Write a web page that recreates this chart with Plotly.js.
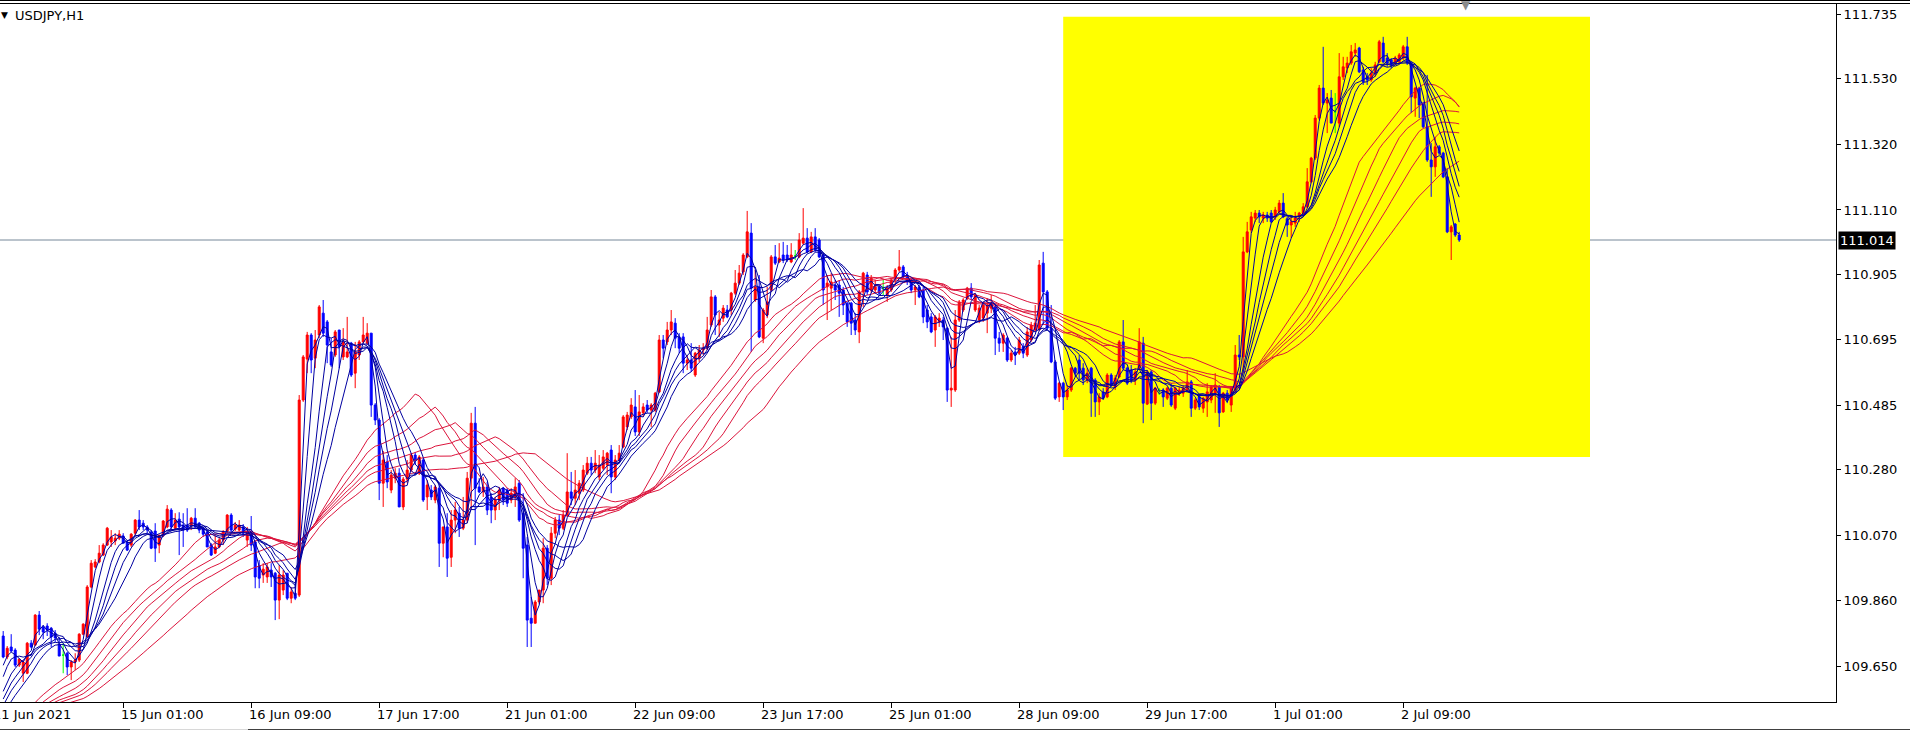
<!DOCTYPE html>
<html><head><meta charset="utf-8">
<script src="https://cdn.plot.ly/plotly-3.0.1.min.js"></script>
<style>html,body{margin:0;padding:0;background:#fff;overflow:hidden}#chart{width:1910px;height:731px}</style>
</head><body><div id="chart"></div>
<script>
// ---------- data (USDJPY H1) ----------
const symbolLabel = 'USDJPY,H1';
const opens = [
109.747,109.680,109.712,109.702,109.654,109.628,109.628,109.724,109.718,109.814,
109.776,109.779,109.772,109.756,109.721,109.686,109.692,109.648,109.664,109.670,
109.753,109.744,109.904,109.968,109.984,110.006,110.038,110.048,110.051,110.060,
110.067,110.048,110.038,110.076,110.118,110.108,110.096,110.080,110.083,110.038,
110.070,110.096,110.150,110.092,110.121,110.102,110.102,110.102,110.124,110.108,
110.092,110.080,110.038,110.012,110.032,110.054,110.083,110.134,110.089,110.086,
110.096,110.054,110.076,110.048,109.971,109.942,109.936,109.958,109.948,109.862,
109.894,109.948,109.868,109.884,109.878,110.502,110.633,110.710,110.636,110.710,
110.780,110.752,110.656,110.646,110.726,110.640,110.640,110.684,110.588,110.646,
110.688,110.684,110.716,110.486,110.438,110.236,110.304,110.214,110.252,110.268,
110.160,110.249,110.278,110.326,110.268,110.310,110.192,110.214,110.182,110.220,
110.044,110.096,109.999,110.118,110.140,110.092,110.118,110.252,110.428,110.224,
110.208,110.224,110.192,110.150,110.182,110.220,110.214,110.182,110.192,110.236,
110.140,110.038,109.804,109.788,109.856,109.894,110.028,109.932,110.076,110.118,
110.092,110.134,110.208,110.188,110.204,110.214,110.268,110.300,110.278,110.256,
110.284,110.294,110.342,110.256,110.310,110.352,110.416,110.448,110.480,110.400,
110.461,110.486,110.470,110.470,110.528,110.694,110.688,110.726,110.748,110.704,
110.704,110.620,110.630,110.582,110.636,110.662,110.668,110.742,110.832,110.742,
110.764,110.790,110.790,110.844,110.876,110.912,110.960,111.036,110.822,110.864,
110.700,110.774,110.854,110.960,110.944,110.966,110.966,110.944,110.963,110.960,
111.004,111.020,110.976,111.024,111.014,110.966,110.864,110.860,110.870,110.870,
110.854,110.812,110.812,110.758,110.720,110.848,110.902,110.854,110.854,110.864,
110.860,110.838,110.854,110.892,110.918,110.928,110.902,110.886,110.854,110.864,
110.854,110.790,110.768,110.726,110.752,110.758,110.732,110.534,110.534,110.758,
110.790,110.828,110.860,110.790,110.758,110.764,110.780,110.796,110.800,110.700,
110.684,110.700,110.630,110.656,110.652,110.672,110.646,110.694,110.726,110.726,
110.940,110.848,110.732,110.624,110.512,110.556,110.512,110.534,110.604,110.630,
110.604,110.566,110.604,110.566,110.496,110.528,110.512,110.582,110.544,110.576,
110.688,110.604,110.598,110.566,110.604,110.684,110.489,110.592,110.492,110.534,
110.534,110.508,110.540,110.476,110.524,110.524,110.534,110.560,110.476,110.512,
110.476,110.496,110.502,110.524,110.544,110.464,110.524,110.486,110.534,110.646,
110.640,110.976,111.046,111.084,111.100,111.084,111.094,111.100,111.088,111.104,
111.132,111.082,111.062,111.068,111.088,111.100,111.120,111.200,111.276,111.404,
111.500,111.452,111.468,111.424,111.388,111.536,111.564,111.580,111.612,111.628,
111.558,111.536,111.526,111.548,111.584,111.644,111.596,111.590,111.580,111.584,
111.596,111.632,111.580,111.468,111.500,111.452,111.376,111.270,111.248,111.312,
111.292,111.216,111.040,111.065,111.030];
const highs = [
109.763,109.715,109.753,109.708,109.676,109.670,109.728,109.734,109.817,109.827,
109.782,109.788,109.776,109.766,109.744,109.724,109.696,109.670,109.692,109.756,
109.788,109.910,109.990,109.993,110.038,110.044,110.096,110.086,110.076,110.086,
110.076,110.054,110.076,110.121,110.150,110.118,110.102,110.086,110.108,110.070,
110.118,110.166,110.156,110.140,110.143,110.140,110.156,110.128,110.156,110.112,
110.096,110.086,110.044,110.070,110.064,110.086,110.137,110.140,110.112,110.118,
110.105,110.096,110.131,110.054,109.990,109.980,109.980,109.980,109.952,109.974,
109.958,109.948,109.904,109.917,110.518,110.646,110.720,110.716,110.726,110.806,
110.822,110.758,110.700,110.726,110.726,110.732,110.768,110.688,110.688,110.694,
110.768,110.748,110.716,110.492,110.444,110.339,110.326,110.278,110.284,110.284,
110.256,110.310,110.332,110.336,110.326,110.316,110.246,110.230,110.230,110.230,
110.096,110.140,110.150,110.176,110.160,110.192,110.272,110.461,110.480,110.252,
110.256,110.240,110.204,110.192,110.224,110.224,110.220,110.220,110.252,110.246,
110.204,110.064,109.872,109.862,109.894,110.060,110.038,110.096,110.128,110.134,
110.150,110.332,110.272,110.278,110.246,110.294,110.320,110.320,110.342,110.326,
110.342,110.336,110.358,110.326,110.358,110.454,110.464,110.508,110.534,110.518,
110.492,110.502,110.492,110.528,110.710,110.710,110.752,110.790,110.764,110.716,
110.716,110.646,110.684,110.656,110.678,110.684,110.768,110.854,110.838,110.784,
110.806,110.806,110.848,110.918,110.934,110.972,111.107,111.068,110.918,110.902,
110.796,110.864,110.966,110.998,111.004,111.008,110.998,111.004,110.982,111.036,
111.116,111.052,111.040,111.052,111.020,110.972,110.902,110.908,110.886,110.886,
110.864,110.816,110.816,110.780,110.854,110.912,110.912,110.902,110.886,110.870,
110.886,110.870,110.892,110.924,110.982,110.934,110.912,110.892,110.870,110.870,
110.864,110.806,110.780,110.774,110.780,110.768,110.736,110.704,110.790,110.822,
110.828,110.864,110.876,110.844,110.806,110.812,110.828,110.838,110.806,110.720,
110.716,110.704,110.662,110.672,110.704,110.684,110.736,110.752,110.806,110.950,
110.976,110.854,110.806,110.630,110.560,110.560,110.550,110.608,110.608,110.646,
110.620,110.604,110.608,110.572,110.524,110.540,110.588,110.588,110.582,110.694,
110.758,110.608,110.614,110.604,110.732,110.704,110.598,110.598,110.544,110.540,
110.540,110.544,110.556,110.544,110.544,110.550,110.598,110.566,110.508,110.518,
110.512,110.556,110.550,110.588,110.550,110.528,110.534,110.544,110.678,110.710,
111.024,111.072,111.104,111.110,111.110,111.104,111.104,111.110,111.120,111.142,
111.164,111.088,111.088,111.104,111.104,111.132,111.244,111.280,111.414,111.510,
111.632,111.484,111.494,111.484,111.612,111.600,111.600,111.638,111.644,111.632,
111.568,111.548,111.564,111.584,111.654,111.664,111.612,111.596,111.603,111.612,
111.638,111.664,111.584,111.504,111.504,111.456,111.542,111.324,111.344,111.318,
111.296,111.244,111.062,111.068,111.040];
const lows = [
109.676,109.673,109.696,109.648,109.648,109.600,109.625,109.708,109.715,109.750,
109.737,109.747,109.712,109.728,109.683,109.628,109.622,109.606,109.638,109.664,
109.750,109.744,109.900,109.964,109.980,110.003,110.035,110.032,110.038,110.054,
110.044,110.019,110.032,110.070,110.086,110.086,110.076,110.025,109.984,110.012,
110.064,110.092,110.086,110.086,110.006,110.032,110.080,110.086,110.092,110.076,
110.064,110.032,110.003,110.009,110.028,110.038,110.076,110.076,110.083,110.083,
110.064,110.032,110.019,109.900,109.900,109.917,109.917,109.904,109.798,109.801,
109.878,109.862,109.852,109.862,109.872,110.496,110.588,110.588,110.604,110.700,
110.704,110.620,110.608,110.640,110.604,110.630,110.636,110.576,110.540,110.630,
110.684,110.678,110.448,110.422,110.182,110.160,110.220,110.204,110.236,110.160,
110.150,110.236,110.272,110.294,110.262,110.176,110.150,110.182,110.172,109.968,
109.999,109.936,109.968,110.076,110.064,110.086,110.108,110.150,110.038,110.204,
110.192,110.134,110.108,110.118,110.150,110.166,110.160,110.172,110.160,110.112,
109.932,109.712,109.712,109.788,109.849,109.852,109.910,109.910,110.060,110.070,
110.086,110.128,110.166,110.166,110.182,110.208,110.262,110.262,110.268,110.246,
110.278,110.262,110.204,110.246,110.304,110.348,110.406,110.441,110.387,110.387,
110.448,110.461,110.416,110.464,110.524,110.636,110.678,110.710,110.668,110.652,
110.588,110.598,110.592,110.576,110.624,110.646,110.662,110.736,110.710,110.704,
110.752,110.764,110.774,110.838,110.870,110.902,110.956,110.656,110.816,110.700,
110.684,110.764,110.848,110.934,110.940,110.940,110.944,110.940,110.950,110.956,
110.998,110.972,110.972,110.976,110.956,110.806,110.758,110.790,110.822,110.768,
110.774,110.736,110.710,110.710,110.684,110.800,110.838,110.844,110.844,110.835,
110.838,110.816,110.848,110.870,110.912,110.892,110.870,110.844,110.806,110.828,
110.748,110.732,110.716,110.672,110.736,110.694,110.496,110.480,110.528,110.752,
110.784,110.822,110.822,110.784,110.748,110.752,110.716,110.780,110.646,110.656,
110.656,110.624,110.624,110.614,110.646,110.636,110.640,110.688,110.720,110.726,
110.742,110.726,110.620,110.502,110.496,110.470,110.502,110.528,110.576,110.566,
110.550,110.556,110.448,110.448,110.454,110.502,110.508,110.544,110.534,110.572,
110.598,110.550,110.556,110.550,110.598,110.428,110.486,110.438,110.486,110.518,
110.480,110.502,110.480,110.470,110.515,110.512,110.528,110.448,110.470,110.470,
110.461,110.448,110.492,110.461,110.416,110.461,110.492,110.464,110.528,110.630,
110.598,110.972,111.036,111.072,111.068,111.068,111.072,111.068,111.078,111.100,
111.084,111.024,111.020,111.056,111.072,111.094,111.116,111.196,111.270,111.398,
111.446,111.356,111.388,111.356,111.376,111.526,111.548,111.574,111.600,111.548,
111.510,111.510,111.520,111.536,111.580,111.580,111.568,111.564,111.574,111.580,
111.590,111.574,111.420,111.408,111.404,111.372,111.264,111.152,111.216,111.286,
111.212,111.036,110.950,111.024,111.008];
const closes = [
109.680,109.708,109.699,109.654,109.673,109.664,109.724,109.712,109.814,109.769,
109.760,109.766,109.744,109.741,109.683,109.686,109.648,109.664,109.670,109.753,
109.785,109.904,109.980,109.984,110.012,110.038,110.092,110.064,110.060,110.073,
110.044,110.022,110.073,110.118,110.096,110.096,110.086,110.028,110.028,110.070,
110.115,110.153,110.096,110.118,110.096,110.086,110.086,110.124,110.096,110.086,
110.073,110.032,110.006,110.032,110.054,110.080,110.134,110.086,110.102,110.102,
110.076,110.080,110.038,109.936,109.932,109.961,109.968,109.936,109.862,109.942,
109.942,109.868,109.888,109.868,110.502,110.640,110.710,110.630,110.694,110.800,
110.716,110.678,110.614,110.720,110.672,110.688,110.656,110.582,110.656,110.688,
110.710,110.716,110.486,110.438,110.236,110.310,110.240,110.262,110.268,110.160,
110.249,110.278,110.326,110.310,110.320,110.182,110.230,110.192,110.224,110.044,
110.096,109.996,110.118,110.150,110.092,110.118,110.252,110.428,110.220,110.208,
110.224,110.150,110.150,110.182,110.214,110.182,110.172,110.204,110.224,110.118,
110.028,109.798,109.788,109.856,109.894,110.028,109.932,110.076,110.118,110.092,
110.134,110.208,110.188,110.214,110.236,110.278,110.300,110.278,110.300,110.294,
110.320,110.332,110.256,110.310,110.332,110.448,110.454,110.486,110.400,110.464,
110.480,110.470,110.486,110.524,110.694,110.668,110.726,110.752,110.700,110.668,
110.620,110.630,110.604,110.652,110.662,110.668,110.726,110.832,110.774,110.758,
110.796,110.768,110.844,110.876,110.908,110.966,111.040,110.860,110.864,110.704,
110.790,110.816,110.960,110.940,110.956,110.950,110.950,110.966,110.963,111.014,
111.020,110.976,111.024,110.982,110.960,110.854,110.876,110.880,110.854,110.844,
110.806,110.752,110.748,110.726,110.848,110.908,110.848,110.892,110.864,110.844,
110.860,110.860,110.886,110.918,110.928,110.896,110.880,110.854,110.864,110.832,
110.768,110.752,110.720,110.768,110.764,110.736,110.534,110.540,110.758,110.816,
110.822,110.860,110.832,110.838,110.796,110.806,110.806,110.812,110.700,110.684,
110.710,110.630,110.652,110.646,110.694,110.652,110.720,110.742,110.748,110.934,
110.848,110.732,110.624,110.508,110.556,110.512,110.534,110.604,110.588,110.588,
110.566,110.588,110.524,110.496,110.512,110.508,110.582,110.550,110.572,110.688,
110.604,110.556,110.566,110.592,110.688,110.492,110.592,110.492,110.540,110.534,
110.512,110.540,110.486,110.540,110.534,110.540,110.560,110.476,110.502,110.480,
110.508,110.528,110.544,110.550,110.461,110.524,110.502,110.540,110.646,110.640,
110.976,111.040,111.088,111.100,111.088,111.094,111.084,111.072,111.110,111.132,
111.088,111.062,111.072,111.084,111.100,111.120,111.200,111.276,111.404,111.500,
111.452,111.462,111.388,111.424,111.536,111.568,111.580,111.616,111.622,111.552,
111.520,111.526,111.548,111.574,111.648,111.584,111.580,111.574,111.596,111.606,
111.632,111.580,111.472,111.500,111.446,111.376,111.270,111.248,111.312,111.292,
111.216,111.040,111.056,111.030,111.014];
// closes before the first visible bar (off screen), estimated from where the averages enter
const priorCloses = [
109.420,109.445,109.460,109.438,109.452,109.470,109.488,109.475,109.462,109.480,
109.495,109.510,109.498,109.485,109.470,109.455,109.440,109.452,109.468,109.480,
109.492,109.505,109.490,109.472,109.460,109.448,109.436,109.450,109.465,109.478,
109.470,109.458,109.445,109.430,109.418,109.405,109.392,109.380,109.395,109.410,
109.425,109.440,109.430,109.418,109.405,109.398,109.390,109.402,109.415,109.428,
109.440,109.455,109.470,109.490,109.515,109.545,109.580,109.620,109.660];
const fastPeriods = [3,5,8,10,12,15];
const slowPeriods = [30,35,40,45,50,60];
const timeTickBars = [-2,30,62,94,126,158,190,222,254,286,318,350];
const timeTickLabels = ['11 Jun 2021','15 Jun 01:00','16 Jun 09:00','17 Jun 17:00','21 Jun 01:00','22 Jun 09:00','23 Jun 17:00','25 Jun 01:00','28 Jun 09:00','29 Jun 17:00','1 Jul 01:00','2 Jul 09:00'];
const priceTicks = [111.735,111.530,111.320,111.110,110.905,110.695,110.485,110.280,110.070,109.860,109.650];
const bidPrice = 111.014;
const boxBars = [265, 396.7];
const boxPrices = [110.320, 111.728];

// ---------- build ----------
const X_MIN = -0.8, X_MAX = 458.2, Y_MIN = 109.536, Y_MAX = 111.769;
const idx = closes.map((_, i) => i);
const allCloses = priorCloses.concat(closes);
function sma(n) {
  return closes.map((_, i) => {
    const end = priorCloses.length + i; let s = 0;
    for (let k = end - n + 1; k <= end; k++) s += allCloses[k];
    return s / n;
  });
}
const isDoji = idx.map(i => opens[i] === closes[i]);
const pick = (arr, want) => idx.filter(i => isDoji[i] === want).map(i => arr[i]);
const FONT = 'DejaVu Sans, Verdana, sans-serif';

const traces = [];
traces.push({
  type: 'candlestick', x: pick(idx, false), open: pick(opens, false), high: pick(highs, false),
  low: pick(lows, false), close: pick(closes, false), hoverinfo: 'skip', whiskerwidth: 0,
  increasing: {line: {color: '#FF0000', width: 1}, fillcolor: '#FF0000'},
  decreasing: {line: {color: '#0000FF', width: 1}, fillcolor: '#0000FF'}
});
traces.push({
  type: 'candlestick', x: pick(idx, true), open: pick(opens, true), high: pick(highs, true),
  low: pick(lows, true), close: pick(closes, true), hoverinfo: 'skip', whiskerwidth: 0,
  increasing: {line: {color: '#00FF00', width: 1}, fillcolor: '#00FF00'},
  decreasing: {line: {color: '#00FF00', width: 1}, fillcolor: '#00FF00'}
});
slowPeriods.forEach(n => traces.push({type: 'scatter', mode: 'lines', x: idx, y: sma(n), hoverinfo: 'skip', line: {color: '#DC143C', width: 1}}));
fastPeriods.forEach(n => traces.push({type: 'scatter', mode: 'lines', x: idx, y: sma(n), hoverinfo: 'skip', line: {color: '#0000A0', width: 1}}));

const px2paper = b => (b - X_MIN) / (X_MAX - X_MIN);
const annotations = timeTickBars.map((b, k) => ({
  xref: 'paper', yref: 'paper', x: px2paper(b), y: 0, xanchor: 'left', yanchor: 'top', yshift: -3, xshift: -4,
  text: timeTickLabels[k], showarrow: false, font: {family: FONT, size: 13, color: '#000'}
}));
annotations.push({xref: 'paper', yref: 'y', x: 1, xanchor: 'left', xshift: 2, y: bidPrice, yanchor: 'middle',
  text: bidPrice.toFixed(3), showarrow: false, bgcolor: '#000', borderpad: 1, font: {family: FONT, size: 13, color: '#fff'}});
annotations.push({xref: 'paper', yref: 'paper', x: 0, y: 1, xanchor: 'left', yanchor: 'middle', xshift: -1, yshift: -11,
  text: '▼', showarrow: false, font: {family: FONT, size: 9, color: '#000'}});
annotations.push({xref: 'paper', yref: 'paper', x: 0, y: 1, xanchor: 'left', yanchor: 'middle', xshift: 13, yshift: -11,
  text: symbolLabel, showarrow: false, font: {family: FONT, size: 13, color: '#000'}});
annotations.push({xref: 'paper', yref: 'paper', x: px2paper(closes.length + 0.7), y: 1, xanchor: 'center', yanchor: 'middle', yshift: -1,
  text: '▼', showarrow: false, font: {family: FONT, size: 12, color: '#8a8a8a'}});

const PH = 698, PW = 1836;
const shapes = [
  {type: 'rect', xref: 'x', yref: 'y', x0: boxBars[0], x1: boxBars[1], y0: boxPrices[0], y1: boxPrices[1], fillcolor: '#FFFF00', line: {width: 0}, layer: 'below'},
  {type: 'line', xref: 'paper', yref: 'y', x0: 0, x1: 1, y0: bidPrice, y1: bidPrice, line: {color: '#778899', width: 1}, layer: 'below'},
  {type: 'line', xref: 'paper', yref: 'paper', x0: 0, x1: 1910 / PW, y0: 1 + 3.5 / PH, y1: 1 + 3.5 / PH, line: {color: '#000', width: 1}},
  {type: 'line', xref: 'paper', yref: 'paper', x0: 0, x1: 1910 / PW, y0: 1 + 0.5 / PH, y1: 1 + 0.5 / PH, line: {color: '#000', width: 1}},
  {type: 'line', xref: 'paper', yref: 'paper', x0: 0, x1: 1910 / PW, y0: -27.5 / PH, y1: -27.5 / PH, line: {color: '#404040', width: 1}},
  {type: 'line', xref: 'paper', yref: 'paper', x0: 130 / PW, x1: 248 / PW, y0: -27.5 / PH, y1: -27.5 / PH, line: {color: '#d8d8d8', width: 1}}
];

const layout = {
  width: 1910, height: 731, margin: {l: 0, r: 74, t: 4, b: 29, pad: 0},
  paper_bgcolor: '#fff', plot_bgcolor: '#fff', showlegend: false, dragmode: false,
  xaxis: {range: [X_MIN, X_MAX], type: 'linear', showgrid: false, zeroline: false, showline: true, linecolor: '#000', linewidth: 1,
    ticks: 'outside', ticklen: 5, tickcolor: '#000', tickvals: timeTickBars.filter(b => b >= X_MIN), showticklabels: false,
    rangeslider: {visible: false}, fixedrange: true},
  yaxis: {side: 'right', range: [Y_MIN, Y_MAX], showgrid: false, zeroline: false, showline: true, linecolor: '#000', linewidth: 1,
    ticks: 'outside', ticklen: 4, tickcolor: '#000', tickvals: priceTicks, ticktext: priceTicks.map(v => v.toFixed(3)),
    tickfont: {family: FONT, size: 13, color: '#000'}, fixedrange: true},
  shapes, annotations
};
Plotly.newPlot('chart', traces, layout, {staticPlot: true, displayModeBar: false});
</script></body></html>
